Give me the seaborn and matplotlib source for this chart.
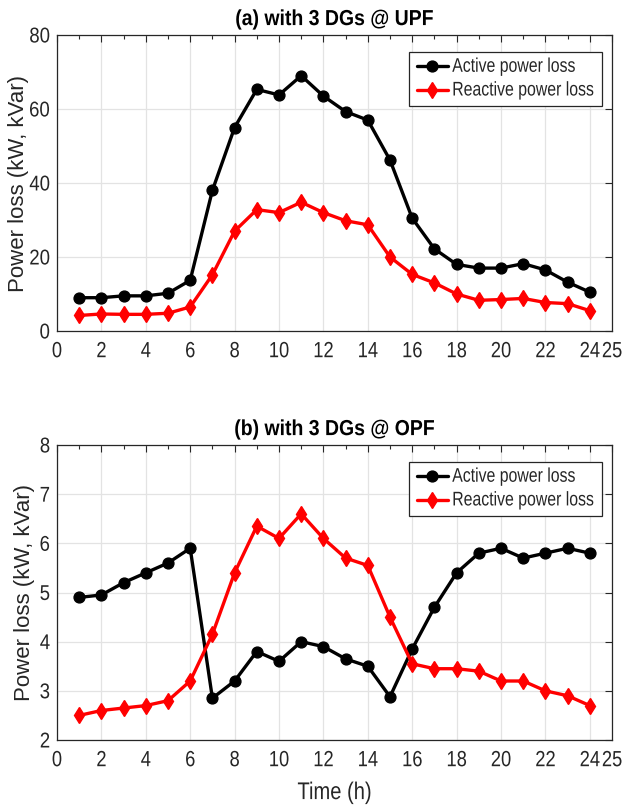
import matplotlib
matplotlib.use("Agg")
import matplotlib.pyplot as plt
import seaborn as sns
import pandas as pd
from matplotlib.ticker import FixedLocator
from matplotlib.patheffects import AbstractPathEffect
from matplotlib.transforms import Affine2D

hours = list(range(1, 25))
upf_active = [9.0, 9.0, 9.5, 9.5, 10.2, 13.7, 38.0, 55.0, 65.3, 63.8, 69.0, 63.5,
              59.3, 57.0, 46.2, 30.5, 22.2, 18.0, 17.0, 17.0, 18.2, 16.5, 13.2, 10.5]
upf_reactive = [4.2, 4.6, 4.5, 4.5, 4.8, 6.5, 15.2, 27.0, 32.8, 32.0, 34.8, 32.0,
                29.8, 28.7, 20.0, 15.3, 13.0, 10.0, 8.3, 8.5, 8.8, 7.7, 7.4, 5.5]
opf_active = [4.9, 4.95, 5.2, 5.4, 5.6, 5.9, 2.85, 3.2, 3.8, 3.6, 4.0, 3.9,
              3.65, 3.5, 2.88, 3.85, 4.7, 5.4, 5.8, 5.9, 5.7, 5.8, 5.9, 5.8]
opf_reactive = [2.5, 2.6, 2.65, 2.7, 2.8, 3.2, 4.15, 5.4, 6.35, 6.1, 6.6, 6.1,
                5.7, 5.55, 4.5, 3.55, 3.45, 3.45, 3.4, 3.2, 3.2, 3.0, 2.9, 2.7]
series_names = ["Active power loss", "Reactive power loss"]
titles = ["(a) with 3 DGs @ UPF", "(b) with 3 DGs @ OPF"]
x_major = [0, 2, 4, 6, 8, 10, 12, 14, 16, 18, 20, 22, 24, 25]
x_minor = list(range(1, 24, 2))
yticks_a = [0, 20, 40, 60, 80]
yticks_b = [2, 3, 4, 5, 6, 7, 8]


class Tall(AbstractPathEffect):
    """Stretch glyphs vertically (narrow-font look) keeping the layout width."""
    def __init__(self, sy, ycenter=False):
        super().__init__()
        self.sy = sy
        self.ycenter = ycenter

    def draw_path(self, renderer, gc, tpath, affine, rgbFace=None):
        cy = 0.0
        if self.ycenter:
            ext = tpath.get_extents()
            cy = (ext.y0 + ext.y1) / 2
        t = Affine2D().translate(0, -cy).scale(1, self.sy).translate(0, cy) + affine
        renderer.draw_path(gc, tpath, t, rgbFace)


sns.set_theme(style="white")
plt.rcParams['font.family'] = ['Liberation Sans', 'DejaVu Sans']

fig = plt.figure(figsize=(6.22, 8.06), dpi=100)
W, H = 622, 806


def ax_rect(l, t, r, b):
    return [l / W, 1 - b / H, (r - l) / W, (b - t) / H]


ax1 = fig.add_axes(ax_rect(57, 35, 612, 331))
ax2 = fig.add_axes(ax_rect(57, 445, 612, 740))

panels = [
    (ax1, upf_active, upf_reactive, titles[0], yticks_a, (0, 80), -0.051),
    (ax2, opf_active, opf_reactive, titles[1], yticks_b, (2, 8), -0.040),
]
tc = '#262626'
for ax, act, rea, title, yt, ylim, ylx in panels:
    df = pd.DataFrame({
        "hour": hours * 2,
        "loss": act + rea,
        "series": [series_names[0]] * 24 + [series_names[1]] * 24,
    })
    sns.lineplot(data=df, x="hour", y="loss", hue="series", style="series",
                 palette={series_names[0]: "black", series_names[1]: "#ff0000"},
                 markers={series_names[0]: "o", series_names[1]: "d"},
                 dashes=False, linewidth=2.4, markersize=7.8, markeredgewidth=1.0,
                 ax=ax, legend=True)
    for ln in ax.lines:
        ln.set_markeredgecolor(ln.get_color())
    ax.set_xlim(0, 25)
    ax.set_ylim(*ylim)
    ax.xaxis.set_major_locator(FixedLocator(x_major))
    ax.xaxis.set_minor_locator(FixedLocator(x_minor))
    ax.set_yticks(yt)
    ax.set_yticklabels([str(v) for v in yt])
    ax.set_xticklabels([str(v) for v in x_major])
    ax.grid(True, which='major', color='#e3e3e3', linewidth=0.9)
    ax.set_axisbelow(True)
    ax.tick_params(axis='both', which='both', direction='in', top=True, right=True,
                   colors=tc, labelcolor=tc)
    ax.tick_params(axis='both', which='major', length=5, width=0.8)
    ax.tick_params(axis='x', which='minor', length=3, width=0.8)
    ax.tick_params(axis='x', which='major', pad=9.5, labelsize=13.2)
    ax.tick_params(axis='y', which='major', pad=5, labelsize=13.4)
    for lab in ax.get_xticklabels():
        lab.set_path_effects([Tall(1.2)])
    for lab in ax.get_yticklabels():
        lab.set_path_effects([Tall(1.15, ycenter=True)])
    for s in ax.spines.values():
        s.set_color(tc)
        s.set_linewidth(0.9)
    ax.text(0.5, 1.02, title, transform=ax.transAxes, ha='center', va='bottom',
            fontsize=14, fontweight='bold', color='black',
            path_effects=[Tall(1.12)])
    ax.set_ylabel("Power loss (kW, kVar)", fontsize=16, color=tc)
    ax.yaxis.set_label_coords(ylx, 0.5)
    ax.set_xlabel("")
    leg = ax.legend(loc='upper right', bbox_to_anchor=(0.982, 0.943), fontsize=11.4,
                    frameon=True, fancybox=False, framealpha=1, edgecolor='#262626',
                    handlelength=2.0, handletextpad=0.25, borderpad=0.5,
                    labelspacing=0.55, borderaxespad=0)
    leg.get_frame().set_linewidth(0.9)
    for t in leg.get_texts():
        t.set_color(tc)
        t.set_path_effects([Tall(1.25)])

ax2.set_xlabel("Time (h)", fontsize=14.5, color=tc, labelpad=10,
               path_effects=[Tall(1.2)])

fig.savefig("out.png", dpi=100)
